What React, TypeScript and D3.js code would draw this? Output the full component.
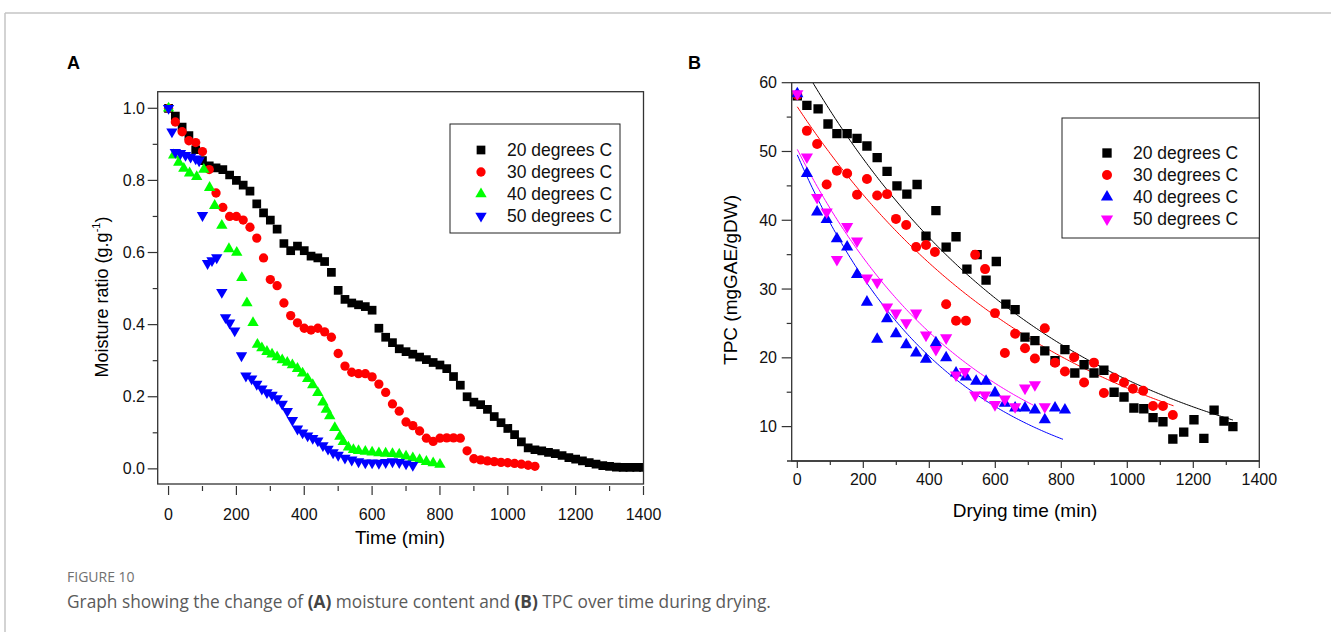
import React from 'react';
import * as d3 from 'd3';

// ---------- shared labels ----------
const seriesLabels = ['20 degrees C', '30 degrees C', '40 degrees C', '50 degrees C'];

// ---------- Panel A : moisture ratio ----------
const timeA20 = [0,20,40,60,80,100,120,140,160,180,200,220,240,260,280,300,320,340,360,380,400,420,440,460,480,500,520,540,560,580,600,620,640,660,680,700,720,740,760,780,800,820,840,860,880,900,920,940,960,980,1000,1020,1040,1060,1080,1100,1120,1140,1160,1180,1200,1220,1240,1260,1280,1300,1320,1340,1360,1380,1400];
const mrA20 = [1.0,0.978,0.948,0.924,0.885,0.855,0.84,0.835,0.83,0.815,0.80,0.787,0.77,0.735,0.71,0.69,0.665,0.625,0.605,0.618,0.605,0.59,0.585,0.575,0.545,0.495,0.47,0.46,0.455,0.45,0.44,0.39,0.365,0.35,0.333,0.325,0.318,0.31,0.303,0.295,0.288,0.278,0.256,0.232,0.20,0.185,0.178,0.165,0.145,0.128,0.112,0.095,0.075,0.058,0.053,0.05,0.046,0.042,0.037,0.031,0.027,0.022,0.017,0.013,0.009,0.007,0.005,0.004,0.004,0.004,0.004];

const timeA30 = [0,20,40,60,80,100,120,140,160,180,200,220,240,260,280,300,320,340,360,380,400,420,440,460,480,500,520,540,560,580,600,620,640,660,680,700,720,740,760,780,800,820,840,860,880,900,920,940,960,980,1000,1020,1040,1060,1080];
const mrA30 = [1.0,0.962,0.935,0.91,0.905,0.88,0.83,0.765,0.725,0.70,0.70,0.69,0.67,0.64,0.585,0.525,0.508,0.46,0.425,0.405,0.39,0.385,0.39,0.38,0.365,0.32,0.285,0.268,0.264,0.264,0.255,0.235,0.212,0.18,0.16,0.13,0.12,0.105,0.085,0.076,0.085,0.086,0.086,0.085,0.05,0.028,0.025,0.022,0.02,0.018,0.017,0.015,0.013,0.01,0.007];

const timeA40 = [0,15,30,45,62,83,104,121,136,157,178,201,216,231,249,262,275,290,305,320,335,350,365,380,395,410,425,440,455,465,475,490,505,515,530,545,560,580,600,620,640,660,680,700,720,740,760,780,800];
const mrA40 = [1.0,0.87,0.85,0.833,0.82,0.81,0.83,0.78,0.73,0.675,0.61,0.60,0.53,0.46,0.405,0.345,0.335,0.325,0.318,0.31,0.302,0.295,0.288,0.278,0.265,0.25,0.233,0.211,0.185,0.165,0.147,0.114,0.09,0.075,0.06,0.053,0.05,0.048,0.046,0.044,0.043,0.042,0.04,0.035,0.03,0.025,0.02,0.016,0.012];

const timeA50 = [0,10,20,35,50,65,80,90,100,115,128,142,157,168,180,195,215,228,245,260,275,290,305,320,335,350,365,380,395,410,425,440,455,470,485,500,520,540,560,580,600,620,640,660,680,700,720];
const mrA50 = [1.0,0.935,0.878,0.875,0.87,0.865,0.86,0.855,0.703,0.57,0.578,0.586,0.49,0.42,0.405,0.383,0.314,0.258,0.25,0.235,0.222,0.212,0.205,0.195,0.18,0.16,0.135,0.111,0.10,0.092,0.085,0.078,0.065,0.055,0.045,0.038,0.03,0.025,0.02,0.017,0.017,0.016,0.018,0.02,0.018,0.014,0.01];

const xTicksA = [0, 200, 400, 600, 800, 1000, 1200, 1400];
const yTicksA = [0, 0.2, 0.4, 0.6, 0.8, 1.0];

// ---------- Panel B : TPC ----------
const timeB20 = [0,29,63,93,120,151,181,211,242,272,302,332,363,390,420,451,481,514,545,572,603,632,660,690,720,750,781,811,841,869,899,929,960,990,1020,1050,1078,1108,1138,1171,1202,1232,1263,1293,1320];
const tpcB20 = [58.1,56.7,56.2,54.0,52.6,52.6,51.9,50.8,49.1,47.1,45.0,43.8,45.2,37.7,41.4,36.1,37.6,32.9,35.0,31.3,34.0,27.8,27.0,23.0,22.5,21.0,19.6,21.2,17.8,19.0,17.8,18.2,15.0,14.3,12.7,12.6,11.3,10.7,8.2,9.2,11.0,8.3,12.4,10.8,10.0];

const timeB30 = [0,29,60,89,120,151,181,211,242,272,299,330,360,390,417,451,481,511,539,569,599,629,660,690,720,750,781,811,839,869,899,929,960,990,1017,1048,1078,1108,1138];
const tpcB30 = [58.2,53.0,51.1,45.2,47.2,46.8,43.7,46.0,43.6,43.8,40.2,39.3,36.1,36.4,35.4,27.8,25.4,25.4,35.0,32.9,26.5,20.7,23.5,21.4,19.9,24.3,19.3,18.0,20.1,16.4,19.3,14.9,17.1,16.4,15.5,15.2,13.0,13.0,11.7];

const timeB40 = [0,29,60,89,120,151,181,211,242,272,299,330,360,390,420,451,481,511,542,572,599,629,660,690,720,750,781,811];
const tpcB40 = [58.4,46.8,41.2,40.1,37.3,36.1,32.1,28.1,22.7,25.7,23.5,21.9,20.7,19.8,22.2,20.0,17.8,17.2,16.6,16.6,14.9,13.4,12.7,12.7,12.4,11.0,12.7,12.4];

const timeB50 = [0,29,60,89,120,151,181,211,242,272,299,330,360,390,420,451,481,508,539,569,599,629,660,690,720,750];
const tpcB50 = [58.4,49.2,43.3,41.2,34.3,39.1,37.0,31.6,31.0,27.4,26.5,25.1,26.5,23.3,21.2,22.9,17.5,18.0,14.6,14.6,13.2,14.0,12.9,15.6,16.1,12.9];

// exponential fit curves: TPC = amp * exp(-rate * t)
const fitAmp = [63.9, 56.5, 49.5, 50.3];
const fitRate = [0.001336, 0.001287, 0.00224, 0.00188];
const fitEnd = [1320, 1140, 805, 715];

const xTicksB = [0, 200, 400, 600, 800, 1000, 1200, 1400];
const yTicksB = [10, 20, 30, 40, 50, 60];

const colorsA = ['#000000', '#ff0000', '#00ff00', '#0000ff'];
const colorsB = ['#000000', '#ff0000', '#0000ff', '#ff00ff'];

const FONT = "'Liberation Sans', Arial, sans-serif";

type Shape = 'square' | 'circle' | 'up' | 'down';
const shapesA: Shape[] = ['square', 'circle', 'up', 'down'];
const shapesB: Shape[] = ['square', 'circle', 'up', 'down'];

const symPath = (s: Shape, big: boolean) => {
  const k = big ? 1.15 : 1;
  if (s === 'square') return d3.symbol().type(d3.symbolSquare).size(76 * k)() as string;
  if (s === 'circle') return d3.symbol().type(d3.symbolCircle).size(68 * k)() as string;
  return d3.symbol().type(d3.symbolTriangle).size(56 * k)() as string;
};

const Marker = ({ x, y, shape, color, big = false }: { x: number; y: number; shape: Shape; color: string; big?: boolean }) => (
  <path
    d={symPath(shape, big)}
    transform={`translate(${x},${y})${shape === 'down' ? ' rotate(180)' : ''}`}
    fill={color}
  />
);

export default function App() {
  const xA = d3.scaleLinear().domain([-32, 1400]).range([157.7, 643.5]);
  const yA = d3.scaleLinear().domain([-0.042, 1.046]).range([484, 91.7]);
  const xB = d3.scaleLinear().domain([-17, 1400]).range([791.7, 1259.3]);
  const yB = d3.scaleLinear().domain([5, 60]).range([461, 82.7]);

  const seriesA = [
    { t: timeA20, v: mrA20 },
    { t: timeA30, v: mrA30 },
    { t: timeA40, v: mrA40 },
    { t: timeA50, v: mrA50 },
  ];
  const seriesB = [
    { t: timeB20, v: tpcB20 },
    { t: timeB30, v: tpcB30 },
    { t: timeB40, v: tpcB40 },
    { t: timeB50, v: tpcB50 },
  ];

  const minorXA = d3.range(100, 1400, 200);
  const minorYA = d3.range(0.1, 1.0, 0.2);
  const minorXB = d3.range(100, 1400, 200);
  const minorYB = d3.range(15, 60, 10);

  const fitLine = d3
    .line<number[]>()
    .x((d) => xB(d[0]))
    .y((d) => yB(d[1]));

  const fits = fitAmp.map((a, i) => {
    const ts = d3.range(0, fitEnd[i] + 1, 5);
    return fitLine(ts.map((t) => [t, a * Math.exp(-fitRate[i] * t)]));
  });

  const fmtA = d3.format('.1f');
  const TICK_FS = 16;

  return (
    <svg width={1331} height={632} style={{ position: 'absolute', left: 0, top: 0 }} fontFamily={FONT}>
      <rect width={1331} height={632} fill="#fff" />
      <line x1={5} y1={13} x2={1331} y2={13} stroke="#c4c4c4" strokeWidth={1.5} />
      <line x1={5} y1={13} x2={5} y2={632} stroke="#c4c4c4" strokeWidth={1.5} />

      <text x={67} y={69} fontSize={18} fontWeight="bold" fill="#000">A</text>
      <text x={688} y={69} fontSize={18} fontWeight="bold" fill="#000">B</text>

      <defs>
        <clipPath id="clipA">
          <rect x={157.7} y={91.7} width={643.5 - 157.7} height={484 - 91.7} />
        </clipPath>
        <clipPath id="clipB">
          <rect x={791.7} y={82.7} width={1259.3 - 791.7} height={461 - 82.7} />
        </clipPath>
      </defs>

      {/* ===== Panel A ===== */}
      <g clipPath="url(#clipA)">
        {seriesA.map((s, i) =>
          s.t.map((t, j) => (
            <Marker key={`a${i}-${j}`} x={xA(t)} y={yA(s.v[j])} shape={shapesA[i]} color={colorsA[i]} />
          ))
        )}
      </g>
      <rect x={157.7} y={91.7} width={643.5 - 157.7} height={484 - 91.7} fill="none" stroke="#333" strokeWidth={1.3} />

      {yTicksA.map((v) => (
        <g key={`ya${v}`}>
          <line x1={147.7} x2={157.7} y1={yA(v)} y2={yA(v)} stroke="#333" strokeWidth={1.2} />
          <text x={145} y={yA(v) + 5.5} fontSize={TICK_FS} textAnchor="end" fill="#111">{fmtA(v)}</text>
        </g>
      ))}
      {minorYA.map((v) => (
        <line key={`mya${v}`} x1={152.7} x2={157.7} y1={yA(v)} y2={yA(v)} stroke="#333" strokeWidth={1.2} />
      ))}
      {xTicksA.map((v) => (
        <g key={`xa${v}`}>
          <line x1={xA(v)} x2={xA(v)} y1={486} y2={495} stroke="#333" strokeWidth={1.2} />
          <text x={xA(v)} y={520} fontSize={TICK_FS} textAnchor="middle" fill="#111">{v}</text>
        </g>
      ))}
      {minorXA.map((v) => (
        <line key={`mxa${v}`} x1={xA(v)} x2={xA(v)} y1={486} y2={491} stroke="#333" strokeWidth={1.2} />
      ))}
      <text x={400} y={544} fontSize={19} textAnchor="middle" fill="#000">Time (min)</text>
      <text transform="translate(108,297) rotate(-90)" fontSize={18} textAnchor="middle" fill="#000">
        Moisture ratio (g.g
        <tspan fontSize={11} dy={-8}>-1</tspan>
        <tspan dy={8}>)</tspan>
      </text>

      <rect x={450} y={124} width={170} height={109} fill="#fff" stroke="#222" strokeWidth={1} />
      {seriesLabels.map((lab, i) => {
        const ry = [150, 172, 194, 216][i];
        return (
          <g key={`la${i}`}>
            <Marker x={481} y={ry} shape={shapesA[i]} color={colorsA[i]} />
            <text x={507} y={ry + 6} fontSize={17.5} fill="#111">{lab}</text>
          </g>
        );
      })}

      {/* ===== Panel B ===== */}
      <g clipPath="url(#clipB)">
        {fits.map((d, i) => (
          <path key={`fit${i}`} d={d || ''} fill="none" stroke={colorsB[i]} strokeWidth={1} />
        ))}
        {seriesB.map((s, i) =>
          s.t.map((t, j) => (
            <Marker key={`b${i}-${j}`} x={xB(t)} y={yB(s.v[j])} shape={shapesB[i]} color={colorsB[i]} big />
          ))
        )}
      </g>
      <rect x={791.7} y={82.7} width={1259.3 - 791.7} height={461 - 82.7} fill="none" stroke="#333" strokeWidth={1.3} />

      {yTicksB.map((v) => (
        <g key={`yb${v}`}>
          <line x1={781.7} x2={791.7} y1={yB(v)} y2={yB(v)} stroke="#333" strokeWidth={1.2} />
          <text x={777} y={yB(v) + 5.5} fontSize={TICK_FS} textAnchor="end" fill="#111">{v}</text>
        </g>
      ))}
      {minorYB.map((v) => (
        <line key={`myb${v}`} x1={786.7} x2={791.7} y1={yB(v)} y2={yB(v)} stroke="#333" strokeWidth={1.2} />
      ))}
      <line x1={787} x2={1259.3} y1={461} y2={461} stroke="#333" strokeWidth={1.3} />
      {xTicksB.map((v) => (
        <g key={`xb${v}`}>
          <line x1={xB(v)} x2={xB(v)} y1={461} y2={468} stroke="#333" strokeWidth={1.2} />
          <text x={xB(v)} y={485} fontSize={TICK_FS} textAnchor="middle" fill="#111">{v}</text>
        </g>
      ))}
      {minorXB.map((v) => (
        <line key={`mxb${v}`} x1={xB(v)} x2={xB(v)} y1={461} y2={465} stroke="#333" strokeWidth={1.2} />
      ))}
      <text x={1025} y={517} fontSize={19} textAnchor="middle" fill="#000">Drying time (min)</text>
      <text transform="translate(737,280) rotate(-90)" fontSize={19} textAnchor="middle" fill="#000">
        TPC (mgGAE/gDW)
      </text>

      <rect x={1062} y={118} width={1259.3 - 1062} height={120} fill="#fff" stroke="#222" strokeWidth={1} />
      {seriesLabels.map((lab, i) => {
        const ry = [153, 175, 197, 219][i];
        return (
          <g key={`lb${i}`}>
            <Marker x={1107} y={ry} shape={shapesB[i]} color={colorsB[i]} big />
            <text x={1133} y={ry + 6} fontSize={17.5} fill="#111">{lab}</text>
          </g>
        );
      })}

      {/* Caption */}
      <text x={67} y={582} fontSize={14} fill="#707070" fontFamily="'Open Sans', sans-serif">FIGURE 10</text>
      <text x={67} y={608} fontSize={17.3} fill="#5a5a5a" fontFamily="'Open Sans', sans-serif">
        Graph showing the change of <tspan fontWeight="bold" fill="#444">(A)</tspan> moisture content and{' '}
        <tspan fontWeight="bold" fill="#444">(B)</tspan> TPC over time during drying.
      </text>
    </svg>
  );
}
